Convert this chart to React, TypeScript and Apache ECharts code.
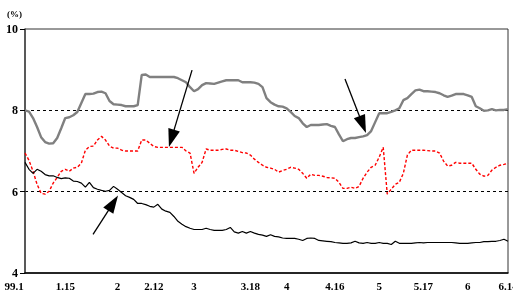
import React, { useEffect, useRef } from 'react';
import * as echarts from 'echarts';

const xLabels = ['99.1', '1.15', '2', '2.12', '3', '3.18', '4', '4.16', '5', '5.17', '6', '6.14'];
const xLabelPos = [0, 10, 23, 32, 42, 56, 65, 77, 88, 99, 110, 120];
const yTicks = [4, 6, 8, 10];

const grayLine = [
  8.00, 7.97, 7.81, 7.59, 7.34, 7.22, 7.18, 7.19, 7.32, 7.56,
  7.81, 7.83, 7.88, 7.96, 8.18, 8.40, 8.40, 8.41, 8.45, 8.46,
  8.42, 8.23, 8.15, 8.14, 8.13, 8.10, 8.10, 8.10, 8.13, 8.87,
  8.88, 8.82, 8.82, 8.82, 8.82, 8.82, 8.82, 8.82, 8.79, 8.74,
  8.69, 8.57, 8.47, 8.52, 8.62, 8.67, 8.66, 8.65, 8.68, 8.71,
  8.74, 8.74, 8.74, 8.74, 8.69, 8.69, 8.69, 8.68, 8.65, 8.57,
  8.30, 8.20, 8.14, 8.10, 8.09, 8.05, 7.96, 7.86, 7.81, 7.68,
  7.59, 7.64, 7.64, 7.64, 7.65, 7.66, 7.62, 7.59, 7.41, 7.24,
  7.29, 7.32, 7.32, 7.34, 7.36, 7.39, 7.49, 7.71, 7.93, 7.93,
  7.93, 7.96, 8.00, 8.05, 8.25, 8.30, 8.40, 8.49, 8.51, 8.47,
  8.47, 8.46, 8.45, 8.42, 8.37, 8.33, 8.36, 8.40, 8.40, 8.40,
  8.37, 8.33, 8.10, 8.05, 7.99, 8.00, 8.03, 8.00, 8.01, 8.01,
  8.03,
];

const redLine = [
  6.95, 6.77, 6.50, 6.18, 5.96, 5.94, 6.01, 6.21, 6.35, 6.50,
  6.55, 6.50, 6.58, 6.60, 6.70, 7.02, 7.11, 7.12, 7.27, 7.36,
  7.27, 7.12, 7.07, 7.07, 7.02, 7.00, 7.00, 7.00, 7.00, 7.27,
  7.27, 7.19, 7.11, 7.09, 7.09, 7.09, 7.09, 7.09, 7.09, 7.09,
  7.00, 6.95, 6.45, 6.60, 6.72, 7.05, 7.02, 7.02, 7.02, 7.04,
  7.05, 7.02, 7.02, 6.99, 6.96, 6.95, 6.90, 6.80, 6.72, 6.65,
  6.60, 6.58, 6.55, 6.48, 6.52, 6.55, 6.60, 6.58, 6.55, 6.45,
  6.33, 6.43, 6.40, 6.40, 6.38, 6.35, 6.34, 6.33, 6.23, 6.08,
  6.08, 6.11, 6.08, 6.13, 6.33, 6.48, 6.60, 6.65, 6.85, 7.09,
  5.94, 6.06, 6.18, 6.23, 6.45, 6.90, 7.02, 7.02, 7.02, 7.02,
  7.01, 7.00, 7.00, 6.95, 6.75, 6.63, 6.65, 6.72, 6.70, 6.70,
  6.70, 6.70, 6.55, 6.43, 6.38, 6.40, 6.53, 6.60, 6.65, 6.67,
  6.70,
];

const blackLine = [
  6.72, 6.55, 6.45, 6.55, 6.50, 6.42, 6.39, 6.39, 6.35, 6.32,
  6.34, 6.33, 6.26, 6.25, 6.21, 6.11, 6.23, 6.10, 6.06, 6.03,
  6.01, 6.03, 6.13, 6.06, 5.98, 5.90, 5.86, 5.81, 5.71, 5.71,
  5.68, 5.64, 5.62, 5.69, 5.57, 5.52, 5.49, 5.39, 5.27, 5.20,
  5.14, 5.10, 5.07, 5.07, 5.07, 5.10, 5.07, 5.05, 5.05, 5.05,
  5.07, 5.12, 5.01, 4.98, 5.02, 4.98, 5.02, 4.98, 4.95, 4.93,
  4.90, 4.94, 4.90, 4.89, 4.86, 4.85, 4.85, 4.85, 4.83, 4.80,
  4.85, 4.86, 4.85, 4.80, 4.79, 4.78, 4.77, 4.75, 4.74, 4.73,
  4.73, 4.74, 4.78, 4.74, 4.73, 4.75, 4.73, 4.73, 4.75, 4.73,
  4.73, 4.70, 4.78, 4.73, 4.73, 4.73, 4.73, 4.74, 4.75, 4.74,
  4.75, 4.75, 4.75, 4.75, 4.75, 4.75, 4.75, 4.74, 4.73, 4.73,
  4.73, 4.74, 4.75, 4.75, 4.77, 4.77, 4.78, 4.78, 4.80, 4.83,
  4.78,
];

// arrow annotations: [tail x, tail y, head x, head y] in data units
const arrows = [
  [16.9, 4.95, 21.9, 5.72],
  [41.5, 8.99, 36.4, 7.31],
  [79.5, 8.77, 83.9, 7.65],
];

const FONT = '"Liberation Serif", "Times New Roman", serif';

export default function App() {
  const ref = useRef<HTMLDivElement>(null);
  useEffect(() => {
    const chart = echarts.init(ref.current!, null, { renderer: 'svg' });
    const toPairs = (arr: number[]) => arr.map((v, i) => [i, v]);
    const lastIdx = xLabelPos.length - 1;
    const richBase = { fontFamily: FONT, fontWeight: 'bold', fontSize: 11, color: '#000' };
    chart.setOption({
      animation: false,
      grid: {
        left: 25, right: 5, top: 29, bottom: 18,
        containLabel: false, outerBoundsMode: 'none',
        show: true, borderColor: '#333', borderWidth: 1,
      },
      xAxis: {
        type: 'value', min: 0, max: grayLine.length - 1,
        axisLine: { show: true, onZero: false, lineStyle: { color: '#000', width: 1.5 } },
        axisTick: { show: false },
        splitLine: { show: false },
        axisLabel: {
          customValues: xLabelPos,
          hideOverlap: false,
          showMinLabel: true,
          showMaxLabel: true,
          formatter: (v: number) => {
            const k = xLabelPos.indexOf(v);
            if (k === 0) return '{f|' + xLabels[0] + '}';
            if (k === lastIdx) return '{l|' + xLabels[lastIdx] + '}';
            return k >= 0 ? xLabels[k] : '';
          },
          rich: {
            f: { ...richBase, padding: [0, 22, 0, 0] },
            l: { ...richBase, padding: [0, 0, 0, 0] },
          },
          ...richBase, margin: 7,
        },
      },
      yAxis: {
        type: 'value', min: 4, max: 10, interval: 2,
        name: '(%)', nameLocation: 'end', nameGap: 11,
        nameTextStyle: {
          fontFamily: FONT, fontWeight: 'bold', fontSize: 9, color: '#000',
          align: 'right', verticalAlign: 'bottom', padding: [0, 3, 0, 0],
        },
        axisLine: { show: true, lineStyle: { color: '#444', width: 1.5 } },
        axisTick: { show: true, length: 5, lineStyle: { color: '#000', width: 1 } },
        splitLine: {
          show: true, showMinLine: false, showMaxLine: false,
          lineStyle: { color: '#000', width: 1, type: [3, 3] },
        },
        axisLabel: {
          fontFamily: FONT, fontWeight: 'bold', fontSize: 12, color: '#000', margin: 7,
          formatter: (v: number) => (yTicks.includes(v) ? String(v) : ''),
        },
      },
      series: [
        {
          type: 'line', data: toPairs(grayLine), showSymbol: false, symbol: 'none',
          lineStyle: { color: '#808080', width: 2.4 }, silent: true, z: 3,
        },
        {
          type: 'line', data: toPairs(redLine), showSymbol: false, symbol: 'none',
          lineStyle: { color: '#ff0000', width: 1.4, type: [3, 2] }, silent: true, z: 3,
        },
        {
          type: 'line', data: toPairs(blackLine), showSymbol: false, symbol: 'none',
          lineStyle: { color: '#000', width: 1.2 }, silent: true, z: 4,
          markLine: {
            silent: true, animation: false,
            label: { show: false },
            lineStyle: { color: '#000', width: 1.3, type: 'solid' },
            emphasis: { disabled: true },
            data: arrows.map((a) => [
              { coord: [a[0], a[1]], symbol: 'none' },
              { coord: [a[2], a[3]], symbol: 'triangle', symbolSize: [12, 18] },
            ]),
          },
        },
      ],
    });
    return () => chart.dispose();
  }, []);
  return <div ref={ref} style={{ position: 'fixed', left: 0, top: 0, width: 513, height: 291 }} />;
}
